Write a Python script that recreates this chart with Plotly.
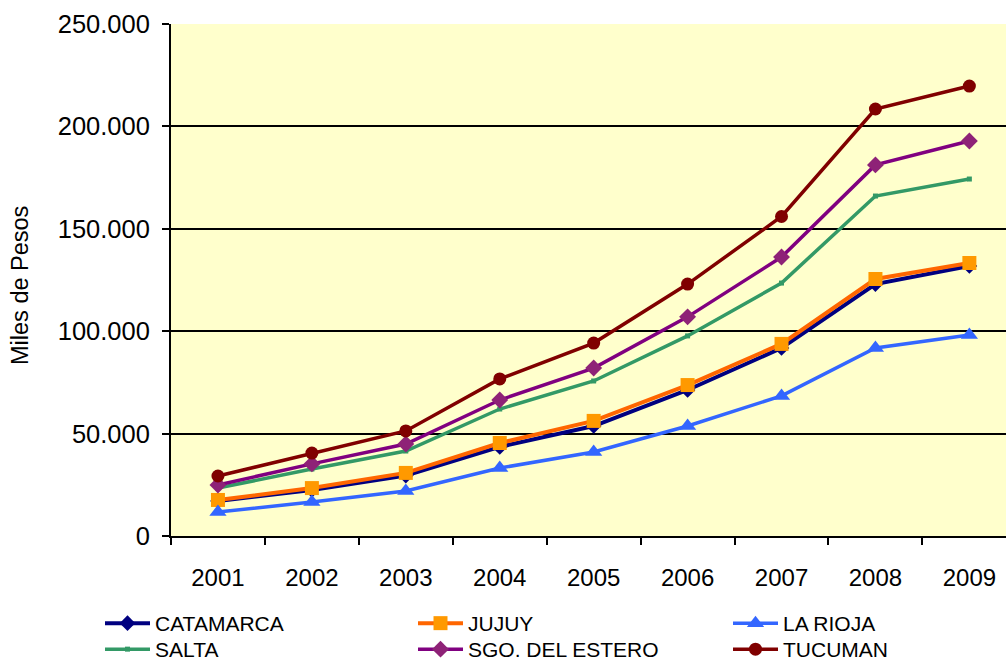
import plotly.graph_objects as go

years = ["2001", "2002", "2003", "2004", "2005", "2006", "2007", "2008", "2009"]
catamarca = [17100, 22500, 29500, 43500, 53700, 71300, 91800, 123000, 131800]
jujuy = [17600, 23400, 30800, 45400, 56200, 73700, 93800, 125500, 133300]
la_rioja = [11700, 16600, 22000, 33200, 41000, 53700, 68400, 91800, 98100]
salta = [23400, 32700, 41500, 62000, 75700, 97700, 123500, 166000, 174300]
sgo = [24900, 35200, 44900, 66400, 82000, 107000, 136200, 181200, 192900]
tucuman = [29300, 40500, 51300, 76700, 94200, 123000, 156000, 208500, 219700]

series = [
    ("CATAMARCA", catamarca, "#000080", "#000080", "diamond", 12, 4),
    ("JUJUY", jujuy, "#FF6600", "#FF9900", "square", 14, 4),
    ("LA RIOJA", la_rioja, "#3366FF", "#3366FF", "triangle-up", 15, 3.5),
    ("SALTA", salta, "#339966", "#339966", "square", 5, 3.5),
    ("SGO. DEL ESTERO", sgo, "#800080", "#8E2277", "diamond", 13, 3.5),
    ("TUCUMAN", tucuman, "#800000", "#800000", "circle", 13, 3.5),
]

font_family = "Liberation Sans, Arial, sans-serif"
W, H = 1006, 660
# legend slot (left px, top px) for each series: 3 columns x 2 rows
col_px = [100, 413, 728]
row_px = [603, 629]

fig = go.Figure()
legend_layouts = {}
for i, (name, vals, lc, mc, sym, ms, lw) in enumerate(series):
    lid = "legend" if i == 0 else f"legend{i + 1}"
    fig.add_trace(go.Scatter(
        x=years, y=vals, name=name, mode="lines+markers",
        line=dict(color=lc, width=lw),
        marker=dict(color=mc, symbol=sym, size=ms, line=dict(width=0)),
        legend=lid,
    ))
    legend_layouts[lid] = dict(
        orientation="h", xref="container", yref="container",
        x=col_px[i % 3] / W, xanchor="left",
        y=1 - row_px[i // 3] / H, yanchor="top",
        font=dict(size=21, family=font_family, color="black"),
        itemwidth=45, bgcolor="rgba(0,0,0,0)",
    )

fig.update_layout(
    width=W, height=H,
    margin=dict(l=171, r=0, t=24, b=124),
    paper_bgcolor="white",
    plot_bgcolor="#FFFFCC",
    separators=",.",
    font=dict(family=font_family, size=22, color="black"),
    showlegend=True,
    xaxis=dict(
        type="category", range=[-0.5, 8.39], automargin=False,
        showline=True, linecolor="black", linewidth=2,
        ticks="outside", ticklen=7, tickcolor="black", tickwidth=1.5,
        tickson="boundaries", showgrid=False,
        tickfont=dict(size=24), ticklabelstandoff=19,
    ),
    yaxis=dict(
        range=[0, 250000], tickvals=[0, 50000, 100000, 150000, 200000, 250000],
        tickformat=",d", automargin=False,
        showline=True, linecolor="black", linewidth=2,
        ticks="outside", ticklen=7, tickcolor="black", tickwidth=1.5,
        showgrid=True, gridcolor="black", gridwidth=1.6,
        zeroline=False, tickfont=dict(size=25.5), ticklabelstandoff=7,
    ),
    annotations=[dict(
        text="Miles de Pesos", textangle=-90, xref="paper", yref="paper",
        x=-0.181, y=0.49, xanchor="center", yanchor="middle", showarrow=False,
        font=dict(size=23.5),
    )],
    **legend_layouts,
)

fig.write_html(
    "out.html",
    config={"displayModeBar": False},
    post_script="document.body.style.margin='0px';document.body.style.overflow='hidden';",
)
